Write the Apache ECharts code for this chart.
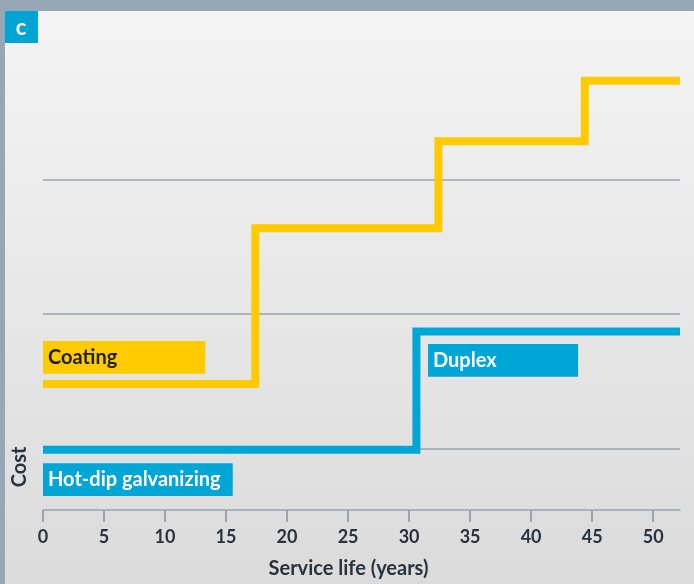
<!DOCTYPE html>
<html>
<head>
<meta charset="utf-8">
<script src="https://cdn.jsdelivr.net/npm/echarts@6/dist/echarts.min.js"></script>
<style>
  html, body { margin: 0; padding: 0; }
  #chart { width: 694px; height: 584px; }
</style>
</head>
<body>
<div id="chart"></div>
<script>
// x ticks (years)
var xTicks = [0, 5, 10, 15, 20, 25, 30, 35, 40, 45, 50];
// step lines: [year, cost] -- cost step happens at next point
var coatingSteps = [[0, 1.48], [17.4, 2.64], [32.4, 3.29], [44.4, 3.74], [52.2, 3.74]];
var galvSteps = [[0, 0.99], [30.6, 1.87], [52.2, 1.87]];
// horizontal guide lines
var gridValues = [1, 2, 3];
// label boxes [x0, y0, x1, y1] in chart units
var coatingBox = [0, 1.556, 13.3, 1.8];
var duplexBox = [31.55, 1.533, 43.85, 1.778];
var galvBox = [0, 0.644, 15.55, 0.889];

var FONT = 'Lato';
var YELLOW = '#fecb00';
var BLUE = '#00a6d6';
var INK = '#27333f';

function box(b, text, color, textColor) {
  return {
    silent: true,
    itemStyle: { color: color },
    label: {
      show: true, position: 'insideLeft', distance: 5,
      color: textColor, fontFamily: FONT, fontWeight: 'bold', fontSize: 20
    },
    data: [[{ name: text, coord: [b[0], b[3]] }, { coord: [b[2], b[1]] }]]
  };
}

var chart = echarts.init(document.getElementById('chart'));
chart.setOption({
  backgroundColor: '#97a7b5',
  animation: false,
  graphic: [
    {
      type: 'rect', z: -10, silent: true,
      shape: { x: 5, y: 11, width: 689, height: 573 },
      style: {
        fill: new echarts.graphic.LinearGradient(0, 0, 0, 1, [
          { offset: 0, color: '#f4f4f4' },
          { offset: 1, color: '#dbdbdb' }
        ])
      }
    },
    {
      type: 'rect', silent: true,
      shape: { x: 5, y: 11, width: 33, height: 32 },
      style: { fill: '#00a5d4' }
    },
    {
      type: 'text', silent: true, x: 21, y: 28,
      style: {
        text: 'c', fill: '#fff', font: 'bold 22px ' + FONT,
        textAlign: 'center', textVerticalAlign: 'middle'
      }
    },
    {
      type: 'text', silent: true, x: 20, y: 467, rotation: Math.PI / 2,
      style: {
        text: 'Cost', fill: INK, font: 'bold 20px ' + FONT,
        textAlign: 'center', textVerticalAlign: 'middle'
      }
    }
  ],
  grid: { left: 43, right: 14, top: 40, bottom: 71 },
  xAxis: {
    type: 'value', min: 0, max: 52.2,
    name: 'Service life (years)', nameLocation: 'middle', nameGap: 49,
    nameTextStyle: {
      color: INK, fontFamily: FONT, fontWeight: 'bold', fontSize: 20,
      padding: [0, 26, 0, 0]
    },
    axisLine: { show: true, lineStyle: { color: '#98a4b0', width: 1.5 } },
    axisTick: {
      show: true, inside: false, length: 12, customValues: xTicks,
      lineStyle: { color: '#98a4b0', width: 2 }
    },
    axisLabel: {
      customValues: xTicks, margin: 18,
      color: INK, fontFamily: FONT, fontWeight: 'bold', fontSize: 18
    },
    splitLine: { show: false }
  },
  yAxis: {
    type: 'value', min: 0.54, max: 4.044,
    axisLine: { show: false }, axisTick: { show: false },
    axisLabel: { show: false }, splitLine: { show: false }
  },
  series: [
    {
      type: 'line', z: 1, data: [[0, 1]], symbol: 'none',
      lineStyle: { width: 0 }, silent: true,
      markLine: {
        z: 1, silent: true, symbol: ['none', 'none'], label: { show: false },
        lineStyle: { color: '#9aa2ad', width: 1.5, type: 'solid' },
        data: gridValues.map(function (v) { return { yAxis: v }; })
      }
    },
    {
      name: 'Coating', type: 'line', z: 3, step: 'end', symbol: 'none',
      data: coatingSteps,
      lineStyle: { color: YELLOW, width: 8, join: 'miter', cap: 'butt' },
      markArea: box(coatingBox, 'Coating', YELLOW, '#1e1e1e')
    },
    {
      name: 'Hot-dip galvanizing / Duplex', type: 'line', z: 3, step: 'end', symbol: 'none',
      data: galvSteps,
      lineStyle: { color: BLUE, width: 8, join: 'miter', cap: 'butt' },
      markArea: box(galvBox, 'Hot-dip galvanizing', BLUE, '#ffffff')
    },
    {
      type: 'line', z: 2, data: [], symbol: 'none',
      markArea: box(duplexBox, 'Duplex', BLUE, '#ffffff')
    }
  ]
});
</script>
</body>
</html>
